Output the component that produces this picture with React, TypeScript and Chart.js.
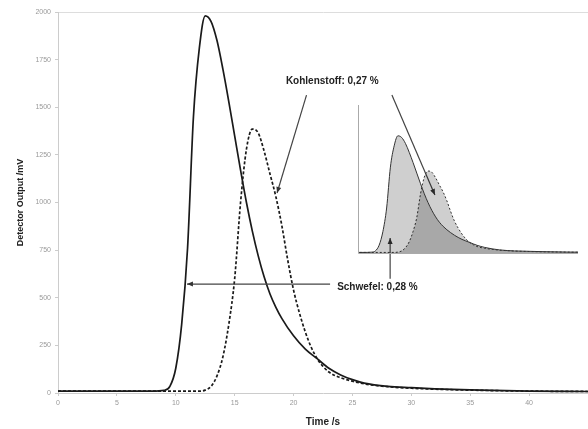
import React, { useEffect, useRef } from "react";
import { Chart, registerables } from "chart.js";

Chart.register(...registerables);

// Main curves (Time /s, Detector Output /mV)
const solidTimes = [0, 8, 9, 9.5, 10, 10.5, 11, 11.5, 12, 12.5, 13, 13.5, 14, 14.5, 15, 15.5, 16, 16.5, 17, 17.5, 18, 18.5, 19, 20, 21, 22, 23, 24, 25, 26, 28, 30, 32, 35, 40, 45];
const solidValues = [10, 10, 14, 35, 130, 360, 760, 1450, 1810, 1980, 1950, 1850, 1700, 1530, 1350, 1170, 1000, 850, 720, 610, 520, 450, 392, 300, 230, 180, 130, 95, 70, 52, 35, 28, 22, 16, 10, 8];

const dashTimes = [0, 12, 12.5, 13, 13.5, 14, 14.5, 15, 15.5, 16, 16.5, 17, 17.5, 18, 18.5, 19, 19.5, 20, 20.5, 21, 21.5, 22, 22.5, 23, 24, 25, 26, 28, 30, 35, 40, 45];
const dashValues = [10, 10, 15, 35, 90, 190, 360, 600, 1000, 1280, 1385, 1365, 1270, 1150, 1030, 880, 700, 540, 420, 320, 240, 180, 140, 110, 80, 62, 48, 33, 25, 15, 10, 8];

const xTicks = [0, 5, 10, 15, 20, 25, 30, 35, 40];
const yTicks = [0, 250, 500, 750, 1000, 1250, 1500, 1750, 2000];

const labelCarbon = "Kohlenstoff: 0,27 %";
const labelSulfur = "Schwefel: 0,28 %";

const FONT = "'Liberation Sans', Arial, sans-serif";

function pts(ts: number[], vs: number[]) {
  return ts.map((t, i) => ({ x: t, y: vs[i] }));
}

function arrow(ctx: CanvasRenderingContext2D, x1: number, y1: number, x2: number, y2: number) {
  ctx.beginPath();
  ctx.moveTo(x1, y1);
  ctx.lineTo(x2, y2);
  ctx.stroke();
  const a = Math.atan2(y2 - y1, x2 - x1);
  const L = 6, W = 2.5;
  ctx.beginPath();
  ctx.moveTo(x2, y2);
  ctx.lineTo(x2 - L * Math.cos(a) + W * Math.sin(a), y2 - L * Math.sin(a) - W * Math.cos(a));
  ctx.lineTo(x2 - L * Math.cos(a) - W * Math.sin(a), y2 - L * Math.sin(a) + W * Math.cos(a));
  ctx.closePath();
  ctx.fill();
}

const annotPlugin = {
  id: "annot",
  afterDraw(chart: any) {
    const ctx = chart.ctx as CanvasRenderingContext2D;
    const xs = chart.scales.x, ys = chart.scales.y;
    const P = (t: number, v: number) => [xs.getPixelForValue(t), ys.getPixelForValue(v)];
    ctx.save();
    ctx.strokeStyle = "#444";
    ctx.fillStyle = "#333";
    ctx.lineWidth = 1.2;
    let a = P(21.1, 1564), b = P(18.6, 1050);
    arrow(ctx, a[0], a[1], b[0], b[1]);
    a = P(28.35, 1564); b = P(32.0, 1039);
    arrow(ctx, a[0], a[1], b[0], b[1]);
    a = P(23.1, 572); b = P(10.95, 572);
    arrow(ctx, a[0], a[1], b[0], b[1]);
    a = P(28.2, 600); b = P(28.2, 814);
    arrow(ctx, a[0], a[1], b[0], b[1]);
    ctx.fillStyle = "#222";
    ctx.font = `bold 10px ${FONT}`;
    ctx.textBaseline = "middle";
    ctx.textAlign = "left";
    let p = P(19.35, 1634);
    ctx.fillText(labelCarbon, p[0], p[1]);
    p = P(23.7, 555);
    ctx.fillText(labelSulfur, p[0], p[1]);
    ctx.restore();
  },
};

const insetAxes = {
  id: "insetAxes",
  afterDraw(chart: any) {
    const { left, right, top, bottom } = chart.chartArea;
    const ctx = chart.ctx as CanvasRenderingContext2D;
    ctx.save();
    ctx.strokeStyle = "#aaa";
    ctx.lineWidth = 1;
    ctx.beginPath();
    ctx.moveTo(left + 0.5, top);
    ctx.lineTo(left + 0.5, bottom + 0.5);
    ctx.lineTo(right, bottom + 0.5);
    ctx.stroke();
    ctx.restore();
  },
};

export default function App() {
  const mainRef = useRef<HTMLCanvasElement>(null);
  const insetRef = useRef<HTMLCanvasElement>(null);

  useEffect(() => {
    document.body.style.margin = "0";
    const main = new Chart(mainRef.current!, {
      type: "line",
      data: {
        datasets: [
          {
            data: pts(solidTimes, solidValues),
            borderColor: "#1a1a1a",
            borderWidth: 1.7,
            pointRadius: 0,
            cubicInterpolationMode: "monotone",
            fill: false,
          },
          {
            data: pts(dashTimes, dashValues),
            borderColor: "#1a1a1a",
            borderWidth: 1.7,
            borderDash: [3, 2],
            pointRadius: 0,
            cubicInterpolationMode: "monotone",
            fill: false,
          },
        ],
      },
      options: {
        animation: false,
        responsive: false,
        layout: { padding: { top: 12, right: 0, left: 0, bottom: 0 } },
        plugins: { legend: { display: false }, tooltip: { enabled: false } },
        scales: {
          x: {
            type: "linear",
            min: 0,
            max: 45,
            afterFit: (s: any) => { s.height = 36; },
            afterBuildTicks: (s: any) => { s.ticks = xTicks.map((v) => ({ value: v })); },
            ticks: { color: "#999", font: { size: 7, family: FONT }, padding: 3, maxRotation: 0, callback: (v: any) => String(v) },
            grid: { display: true, drawOnChartArea: false, tickLength: 3, tickColor: "#ccc", color: "#ccc" },
            border: { color: "#ccc", width: 1 },
            title: { display: true, text: "Time /s", color: "#222", font: { size: 10, weight: "bold", family: FONT }, padding: { top: 0, bottom: 1 } },
          },
          y: {
            min: 0,
            max: 2000,
            afterFit: (s: any) => { s.width = 58; },
            afterBuildTicks: (s: any) => { s.ticks = yTicks.map((v) => ({ value: v })); },
            ticks: { color: "#999", font: { size: 7, family: FONT }, padding: 4, callback: (v: any) => String(v) },
            grid: {
              display: true,
              tickLength: 3,
              tickColor: "#ccc",
              color: (c: any) => (c.tick && c.tick.value === 2000 ? "#ddd" : "rgba(0,0,0,0)"),
            },
            border: { color: "#ccc", width: 1 },
            title: { display: true, text: "Detector Output /mV", color: "#222", font: { size: 9, weight: "bold", family: FONT }, padding: { top: 15, bottom: 0 } },
          },
        },
      },
      plugins: [annotPlugin],
    } as any);

    const inset = new Chart(insetRef.current!, {
      type: "line",
      data: {
        datasets: [
          {
            data: pts(solidTimes, solidValues),
            borderColor: "#333",
            borderWidth: 1,
            backgroundColor: "rgba(0,0,0,0.19)",
            pointRadius: 0,
            cubicInterpolationMode: "monotone",
            fill: "origin",
          },
          {
            data: pts(dashTimes, dashValues),
            borderColor: "#333",
            borderWidth: 1,
            borderDash: [2, 2],
            backgroundColor: "rgba(0,0,0,0.19)",
            pointRadius: 0,
            cubicInterpolationMode: "monotone",
            fill: "origin",
          },
        ],
      },
      options: {
        animation: false,
        responsive: false,
        layout: { padding: { top: 1, left: 1, right: 1, bottom: 1 } },
        plugins: { legend: { display: false }, tooltip: { enabled: false } },
        scales: {
          x: { type: "linear", min: 7.2, max: 36.4, display: false },
          y: { min: 0, max: 2500, display: false },
        },
      },
      plugins: [insetAxes],
    } as any);

    return () => {
      main.destroy();
      inset.destroy();
    };
  }, []);

  return (
    <div style={{ position: "relative", width: 588, height: 429, background: "#fff" }}>
      <canvas ref={mainRef} width={588} height={429} style={{ position: "absolute", left: 0, top: 0 }} />
      <canvas ref={insetRef} width={222} height={150} style={{ position: "absolute", left: 357, top: 104 }} />
    </div>
  );
}
